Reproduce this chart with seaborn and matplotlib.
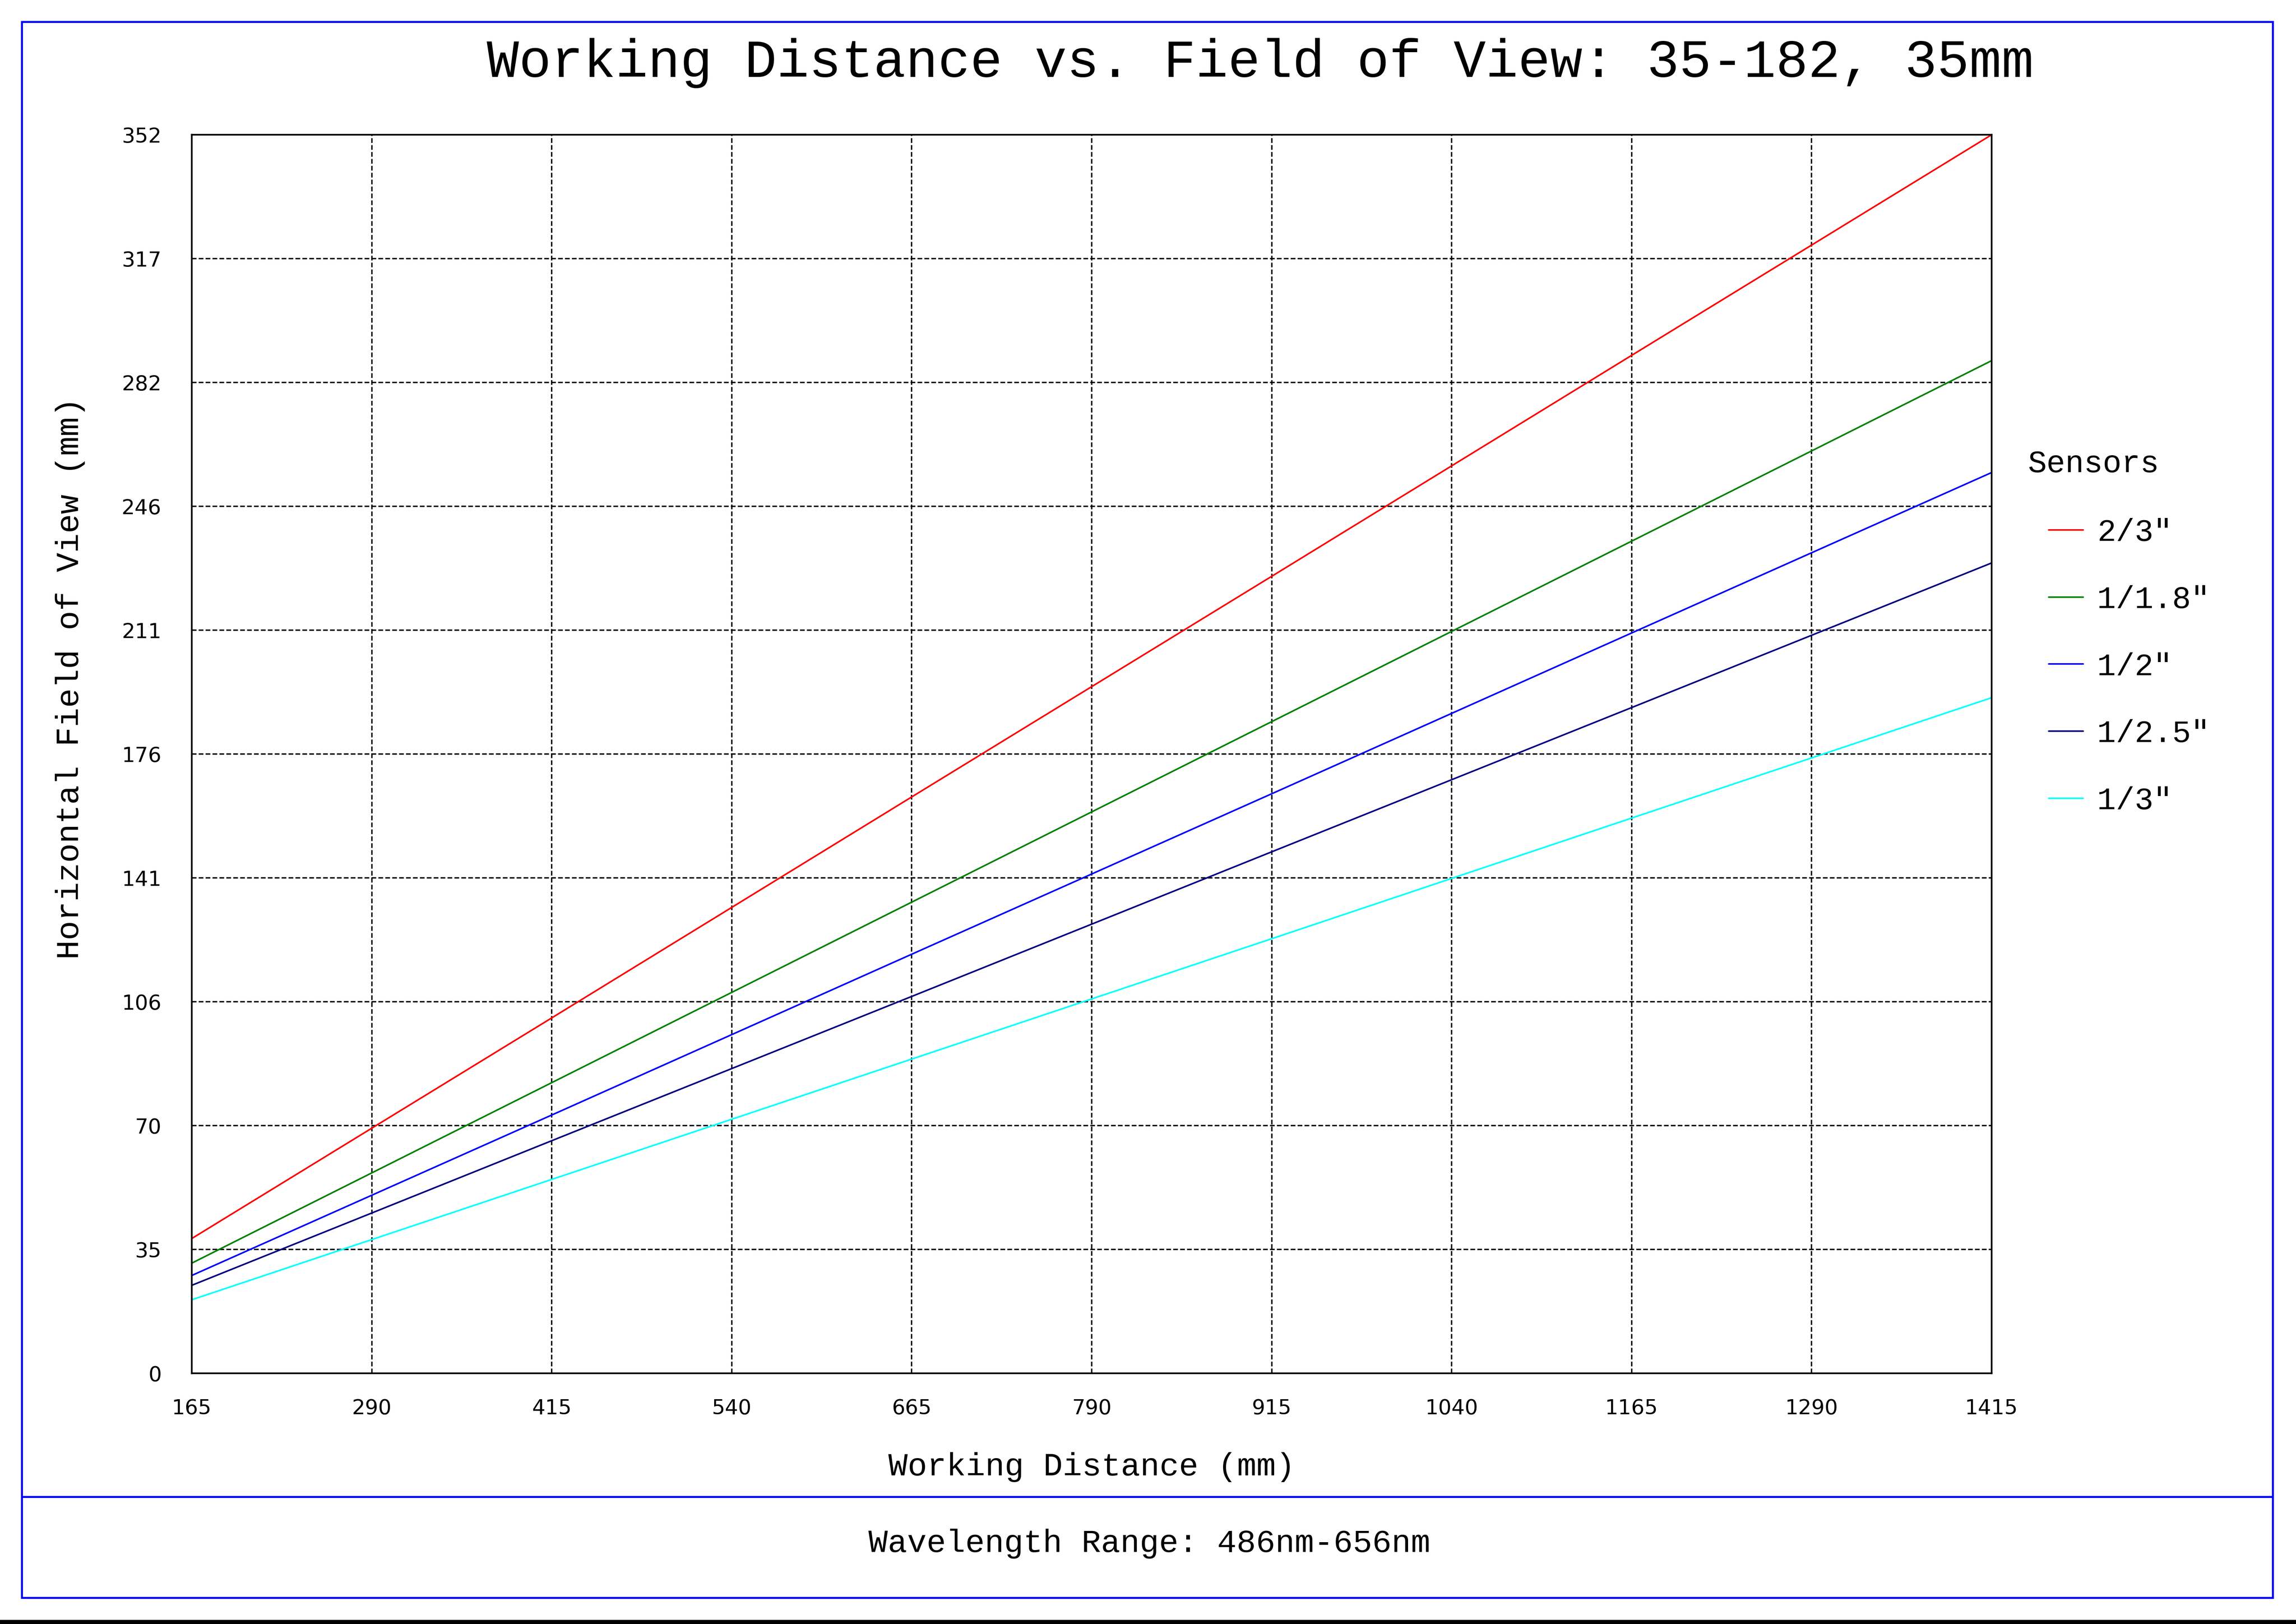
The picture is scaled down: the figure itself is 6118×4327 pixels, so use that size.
import matplotlib
matplotlib.use("Agg")
import matplotlib.pyplot as plt
import pandas as pd
import seaborn as sns
from matplotlib.patches import Rectangle
from matplotlib.lines import Line2D

# data
distance = [165, 415, 665, 915, 1165, 1415]
sensors = ['2/3"', '1/1.8"', '1/2"', '1/2.5"', '1/3"']
fov_2_3 = [38.3, 101.0, 163.8, 226.5, 289.3, 352.0]
fov_1_18 = [31.3, 82.6, 133.9, 185.2, 236.5, 287.8]
fov_1_2 = [27.8, 73.4, 119.1, 164.7, 210.4, 256.0]
fov_1_25 = [25.0, 66.1, 107.1, 148.2, 189.2, 230.3]
fov_1_3 = [20.9, 55.1, 89.3, 123.5, 157.8, 192.0]
colors = ['#ff0000', '#008000', '#0000ff', '#000080', '#00ffff']

x_ticks = [165, 290, 415, 540, 665, 790, 915, 1040, 1165, 1290, 1415]
y_ticks = [0, 35.2, 70.4, 105.6, 140.8, 176.0, 211.2, 246.4, 281.6, 316.8, 352.0]
y_labels = ['0', '35', '70', '106', '141', '176', '211', '246', '282', '317', '352']

# long-form table for seaborn
rows = []
for name, vals in zip(sensors, [fov_2_3, fov_1_18, fov_1_2, fov_1_25, fov_1_3]):
    for d, v in zip(distance, vals):
        rows.append({'Working Distance': d, 'FOV': v, 'Sensor': name})
df = pd.DataFrame(rows)

sns.set_style('white')
mono = ['Liberation Mono', 'DejaVu Sans Mono']
plt.rcParams['font.family'] = mono
plt.rcParams['text.color'] = 'black'
plt.rcParams['axes.labelcolor'] = 'black'
plt.rcParams['xtick.color'] = 'black'
plt.rcParams['ytick.color'] = 'black'

W, H = 6118, 4327
fig = plt.figure(figsize=(W / 100, H / 100), dpi=100)
ax = fig.add_axes([511 / W, 1 - 3659 / H, (5307 - 511) / W, (3659 - 359) / H])

sns.lineplot(data=df, x='Working Distance', y='FOV', hue='Sensor',
             hue_order=sensors, palette=dict(zip(sensors, colors)),
             linewidth=3.0, ax=ax, estimator=None, sort=False)

ax.set_xlim(165, 1415)
ax.set_ylim(0, 352)
ax.set_xticks(x_ticks)
ax.set_xticklabels([str(t) for t in x_ticks])
ax.set_yticks(y_ticks)
ax.set_yticklabels(y_labels)
ax.tick_params(axis='both', length=0, labelsize=40)
ax.tick_params(axis='x', pad=48)
ax.tick_params(axis='y', pad=58)
for lab in ax.get_xticklabels() + ax.get_yticklabels():
    lab.set_family(['DejaVu Sans'])

ax.grid(True, color='black', linestyle=(0, (3.5, 1.6)), linewidth=2.6)
for sp in ax.spines.values():
    sp.set_color('black')
    sp.set_linewidth(3.2)

ax.set_xlabel('Working Distance (mm)', fontsize=62, labelpad=64)
ax.set_ylabel('Horizontal Field of View (mm)', fontsize=62)
ax.yaxis.label.set_verticalalignment('center')
ax.yaxis.set_label_coords((187 - 511) / 4796, (3659 - 1807) / 3300)

fig.text(3358 / W, 1 - 168 / H, 'Working Distance vs. Field of View: 35-182, 35mm',
         fontsize=103, ha='center', va='center')
fig.text(3063 / W, 1 - 4113 / H, 'Wavelength Range: 486nm-656nm',
         fontsize=62, ha='center', va='center')

# legend: title set apart, as in the reference
fig.text(5404 / W, 1 - 1236 / H, 'Sensors', fontsize=60, ha='left', va='center')
leg = ax.legend(loc='upper left', frameon=False,
                bbox_to_anchor=(5384 / W, 1 - 1305 / H),
                bbox_transform=fig.transFigure, fontsize=60,
                handlelength=1.1, handletextpad=0.45, labelspacing=1.21)

# outer blue frame with footer divider, black edge at the bottom
fig.add_artist(Rectangle((58 / W, 1 - 4257 / H), (6056 - 58) / W, (4257 - 58) / H,
                         transform=fig.transFigure, fill=False,
                         edgecolor='#0000ff', linewidth=3.8))
fig.add_artist(Line2D([58 / W, 6056 / W], [1 - 3988 / H, 1 - 3988 / H],
                      transform=fig.transFigure, color='#0000ff', linewidth=3.8))
fig.add_artist(Rectangle((0, 0), 1, 11 / H, transform=fig.transFigure,
                         facecolor='black', edgecolor='none'))

fig.savefig('out.png', dpi=100)
